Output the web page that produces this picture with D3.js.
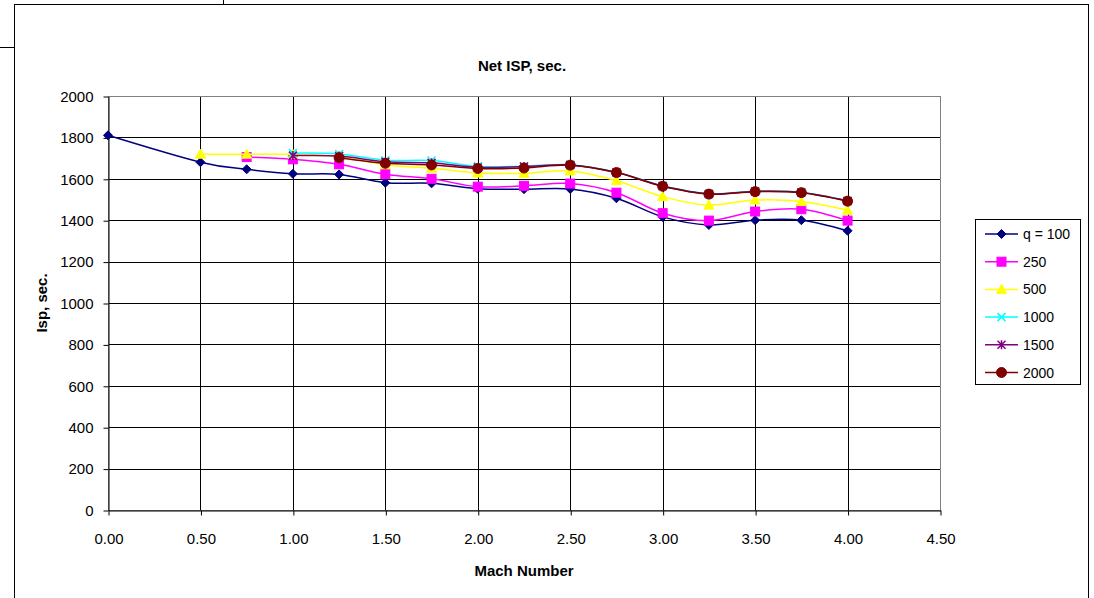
<!DOCTYPE html>
<html>
<head>
<meta charset="utf-8">
<script src="https://cdn.jsdelivr.net/npm/d3@7"></script>
<style>
  body { margin: 0; background: #fff; }
  svg { display: block; font-family: "Liberation Sans", Arial, sans-serif; }
</style>
</head>
<body>
<div id="chart"></div>
<script>
// Mach numbers along the x axis
const mach = [0, 0.5, 0.75, 1.0, 1.25, 1.5, 1.75, 2.0, 2.25, 2.5, 2.75, 3.0, 3.25, 3.5, 3.75, 4.0];

// Net Isp (sec.) per dynamic pressure q
const q100  = [1810, 1680, 1646, 1624, 1621, 1581, 1578, 1552, 1550, 1551, 1506, 1416, 1377, 1400, 1400, 1349];
const q250  = [null, null, 1705, 1694, 1670, 1622, 1600, 1562, 1566, 1577, 1533, 1434, 1398, 1442, 1453, 1398];
const q500  = [null, 1719, 1719, 1718, 1708, 1668, 1651, 1628, 1627, 1638, 1591, 1514, 1473, 1497, 1490, 1448];
const q1000 = [null, null, null, 1724, 1720, 1690, 1688, 1660, 1661, 1668, 1632, 1566, 1528, 1540, 1535, 1494];
const q1500 = [null, null, null, 1712, 1710, 1682, 1677, 1655, 1659, 1667, 1631, 1565, 1527, 1539, 1534, 1493];
const q2000 = [null, null, null, null, 1702, 1675, 1667, 1650, 1652, 1666, 1630, 1564, 1526, 1538, 1533, 1492];

const seriesNames = ["q = 100", "250", "500", "1000", "1500", "2000"];
const seriesValues = [q100, q250, q500, q1000, q1500, q2000];
const seriesColors = ["#000080", "#FF00FF", "#FFFF00", "#00FFFF", "#800080", "#800000"];
const seriesMarkers = ["diamond", "square", "triangle", "x", "star", "circle"];

const xTicks = [0, 0.5, 1, 1.5, 2, 2.5, 3, 3.5, 4, 4.5];
const yTicks = [0, 200, 400, 600, 800, 1000, 1200, 1400, 1600, 1800, 2000];

const W = 1094, H = 598;
const plot = { left: 108, right: 940, top: 96, bottom: 510 };

const svg = d3.select("#chart").append("svg")
    .attr("width", W).attr("height", H);

// Spreadsheet frame around the chart object
svg.append("rect")
    .attr("x", 14.5).attr("y", 4.5)
    .attr("width", 1074).attr("height", 640)
    .attr("fill", "#fff").attr("stroke", "#000").attr("stroke-width", 1);
svg.append("line").attr("x1", 0).attr("x2", 14).attr("y1", 47.5).attr("y2", 47.5)
    .attr("stroke", "#000");
svg.append("line").attr("x1", 223.5).attr("x2", 223.5).attr("y1", 0).attr("y2", 4)
    .attr("stroke", "#000");

const x = d3.scaleLinear().domain([0, 4.5]).range([plot.left, plot.right]);
const y = d3.scaleLinear().domain([0, 2000]).range([plot.bottom, plot.top]);

// Gridlines
const grid = svg.append("g");
grid.selectAll("line.h").data(yTicks).join("line")
    .attr("x1", plot.left).attr("x2", plot.right)
    .attr("y1", d => Math.round(y(d)) + 0.5).attr("y2", d => Math.round(y(d)) + 0.5)
    .attr("stroke", "#000");
grid.selectAll("line.v").data(xTicks).join("line")
    .attr("y1", plot.top).attr("y2", plot.bottom)
    .attr("x1", d => Math.round(x(d)) + 0.5).attr("x2", d => Math.round(x(d)) + 0.5)
    .attr("stroke", "#000");

// Plot area border (grey)
svg.append("rect")
    .attr("x", plot.left + 0.5).attr("y", plot.top + 0.5)
    .attr("width", plot.right - plot.left).attr("height", plot.bottom - plot.top)
    .attr("fill", "none").attr("stroke", "#808080");

// Axes
const yAxis = svg.append("g")
    .attr("transform", `translate(${plot.left + 0.5},0.5)`)
    .call(d3.axisLeft(y).tickValues(yTicks).tickSize(5).tickSizeOuter(0)
        .tickFormat(d3.format("d")).tickPadding(10));
const xAxis = svg.append("g")
    .attr("transform", `translate(0.5,${plot.bottom + 0.5})`)
    .call(d3.axisBottom(x).tickValues(xTicks).tickSize(5).tickSizeOuter(0)
        .tickFormat(d3.format(".2f")).tickPadding(18));
[yAxis, xAxis].forEach(a => {
    a.select(".domain").attr("stroke", "#000");
    a.selectAll(".tick line").attr("stroke", "#000");
    a.selectAll("text").attr("font-family", "Liberation Sans, Arial, sans-serif")
        .attr("font-size", 15).attr("fill", "#000");
});

// Titles
svg.append("text").attr("x", 522).attr("y", 71).attr("text-anchor", "middle")
    .attr("font-size", 15).attr("font-weight", "bold").text("Net ISP, sec.");
svg.append("text").attr("x", 524).attr("y", 576).attr("text-anchor", "middle")
    .attr("font-size", 15).attr("font-weight", "bold").text("Mach Number");
svg.append("text")
    .attr("transform", "translate(47,303) rotate(-90)")
    .attr("text-anchor", "middle")
    .attr("font-size", 15).attr("font-weight", "bold").text("Isp, sec.");

// Marker drawing
function drawMarker(g, type, color) {
    if (type === "diamond") {
        g.append("path").attr("d", "M0,-4.5L4.5,0L0,4.5L-4.5,0Z").attr("fill", color).attr("stroke", color);
    } else if (type === "square") {
        g.append("rect").attr("x", -4.5).attr("y", -4.5).attr("width", 9).attr("height", 9)
            .attr("fill", color).attr("stroke", color);
    } else if (type === "triangle") {
        g.append("path").attr("d", "M0,-5L5,4L-5,4Z").attr("fill", color).attr("stroke", color);
    } else if (type === "x") {
        g.append("path").attr("d", "M-4,-4L4,4M-4,4L4,-4").attr("stroke", color).attr("stroke-width", 1.5);
    } else if (type === "star") {
        g.append("path").attr("d", "M-4,-4L4,4M-4,4L4,-4M0,-4.5L0,4.5").attr("stroke", color).attr("stroke-width", 1.5);
    } else if (type === "circle") {
        g.append("circle").attr("r", 5).attr("fill", color).attr("stroke", color);
    }
}

const line = d3.line()
    .defined(d => d.v != null)
    .x(d => x(d.m)).y(d => y(d.v))
    .curve(d3.curveCardinal.tension(0));

const seriesG = svg.append("g");
seriesValues.forEach((vals, i) => {
    const pts = mach.map((m, j) => ({ m, v: vals[j] })).filter(d => d.v != null);
    seriesG.append("path").datum(pts)
        .attr("d", line)
        .attr("fill", "none").attr("stroke", seriesColors[i]).attr("stroke-width", 1.5);
    pts.forEach(p => {
        const g = seriesG.append("g").attr("transform", `translate(${x(p.m)},${y(p.v)})`);
        drawMarker(g, seriesMarkers[i], seriesColors[i]);
    });
});

// Legend
const legend = svg.append("g");
legend.append("rect").attr("x", 975.5).attr("y", 219.5).attr("width", 105).attr("height", 165)
    .attr("fill", "#fff").attr("stroke", "#000");
seriesNames.forEach((name, i) => {
    const ly = 234 + i * 27.7;
    const g = legend.append("g").attr("transform", `translate(0,${ly})`);
    g.append("line").attr("x1", 985).attr("x2", 1018).attr("y1", 0).attr("y2", 0)
        .attr("stroke", seriesColors[i]).attr("stroke-width", 1.5);
    drawMarker(g.append("g").attr("transform", "translate(1001.5,0)"), seriesMarkers[i], seriesColors[i]);
    g.append("text").attr("x", 1023).attr("y", 5).attr("font-size", 14).text(name);
});
</script>
</body>
</html>
